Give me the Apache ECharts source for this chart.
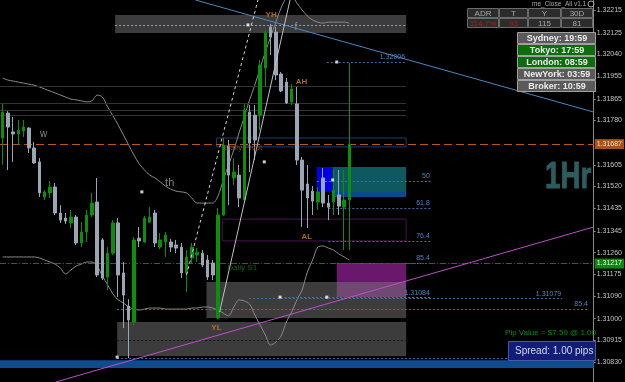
<!DOCTYPE html>
<html><head><meta charset="utf-8">
<script src="https://cdn.jsdelivr.net/npm/echarts@6/dist/echarts.min.js"></script>
<style>html,body{margin:0;padding:0;background:#000;}#c{width:625px;height:382px;}</style>
</head><body><div id="c"></div>
<script>
// ---------------- DATA ----------------
// candles: [open, close, low, high]
const candles = [
[1.31711,1.31813,1.31605,1.31845],[1.31809,1.31754,1.31585,1.31817],[1.31735,1.31727,1.31617,1.31794],
[1.31727,1.31742,1.31683,1.31782],[1.31739,1.31754,1.31715,1.31782],[1.31750,1.31672,1.31652,1.31754],
[1.31672,1.31613,1.31609,1.31695],[1.31617,1.31495,1.31479,1.31632],[1.31479,1.31499,1.31467,1.31506],
[1.31495,1.31518,1.31475,1.31542],[1.31518,1.31416,1.31408,1.31534],[1.31416,1.31388,1.31377,1.31447],
[1.31396,1.31384,1.31373,1.31416],[1.31377,1.31400,1.31357,1.31428],[1.31400,1.31298,1.31290,1.31408],
[1.31298,1.31341,1.31282,1.31380],[1.31341,1.31408,1.31302,1.31428],[1.31408,1.31455,1.31400,1.31495],
[1.31459,1.31172,1.31164,1.31554],[1.31310,1.31160,1.31152,1.31317],[1.31164,1.31258,1.31113,1.31282],
[1.31258,1.31377,1.31251,1.31388],[1.31377,1.31172,1.31085,1.31396],[1.31180,1.31093,1.30963,1.31223],
[1.31050,1.30995,1.30845,1.31077],[1.30987,1.31310,1.30975,1.31321],[1.31317,1.31306,1.31282,1.31361],
[1.31302,1.31396,1.31298,1.31404],[1.31380,1.31400,1.31377,1.31439],[1.31416,1.31298,1.31282,1.31428],
[1.31282,1.31310,1.31274,1.31337],[1.31302,1.31329,1.31243,1.31341],[1.31302,1.31282,1.31262,1.31314],
[1.31290,1.31278,1.31258,1.31310],[1.31282,1.31180,1.31160,1.31298],[1.31180,1.31243,1.31105,1.31270],
[1.31239,1.31282,1.31219,1.31298],[1.31251,1.31262,1.31223,1.31278],[1.31258,1.31211,1.31203,1.31270],
[1.31231,1.31164,1.31152,1.31251],[1.31219,1.31172,1.31152,1.31231],[1.31003,1.31408,1.30999,1.31436],
[1.31408,1.31683,1.31404,1.31711],[1.31680,1.31565,1.31447,1.31703],[1.31554,1.31577,1.31526,1.31632],
[1.31565,1.31475,1.31439,1.31605],[1.31467,1.31821,1.31459,1.31845],[1.31813,1.31691,1.31577,1.31841],
[1.31801,1.31703,1.31624,1.31841],[1.31801,1.31998,1.31742,1.32018],[1.31986,1.32124,1.31912,1.32136],
[1.32148,1.32108,1.32038,1.32160],[1.32128,1.31959,1.31939,1.32148],[1.31963,1.31896,1.31892,1.31971],
[1.31931,1.31849,1.31845,1.31947],[1.31853,1.31904,1.31841,1.31923],[1.31845,1.31624,1.31605,1.31912],
[1.31624,1.31506,1.31361,1.31636],[1.31530,1.31475,1.31357,1.31605],[1.31502,1.31463,1.31408,1.31522],
[1.31459,1.31499,1.31428,1.31518],[1.31554,1.31455,1.31439,1.31593],[1.31455,1.31439,1.31388,1.31487],
[1.31459,1.31506,1.31408,1.31585],[1.31487,1.31443,1.31408,1.31585],[1.31439,1.31467,1.31270,1.31585],
[1.31467,1.31687,1.31270,1.32006]
];
const upperBand = [1.31947,1.31939,1.31935,1.31931,1.31927,1.31923,1.31919,1.31912,1.31904,1.31896,1.31888,1.31880,
1.31872,1.31864,1.31861,1.31857,1.31853,1.31857,1.31880,1.31872,1.31833,1.31798,1.31762,1.31723,1.31683,1.31644,
1.31609,1.31585,1.31565,1.31554,1.31538,1.31522,1.31510,1.31502,1.31499,1.31495,1.31475,1.31455,1.31455,1.31455,
1.31455,1.31483,1.31546,1.31605,1.31664,1.31731,1.31794,1.31861,1.31919,1.31986,1.32049,1.32108,1.32167,1.32223,
1.32262,1.32270,1.32242,1.32215,1.32191,1.32175,1.32167,1.32163,1.32167,1.32167,1.32167,1.32167,1.32163];
const lowerBand = [1.31243,1.31243,1.31243,1.31243,1.31243,1.31243,1.31243,1.31239,1.31231,1.31223,1.31215,1.31199,
1.31176,1.31192,1.31207,1.31215,1.31223,1.31223,1.31207,1.31168,1.31133,1.31097,1.31074,1.31062,1.31046,1.31038,
1.31034,1.31038,1.31042,1.31042,1.31042,1.31038,1.31038,1.31038,1.31038,1.31038,1.31042,1.31042,1.31046,1.31046,
1.31042,1.31034,1.31022,1.31011,1.31046,1.31074,1.31070,1.31058,1.31015,1.30975,1.30936,1.30896,1.30908,1.30932,
1.30987,1.31026,1.31074,1.31113,1.31184,1.31231,1.31282,1.31286,1.31278,1.31270,1.31255,1.31243,1.31231];
const yTickLabels = ['1.32215','1.32125','1.32040','1.31955','1.31865','1.31780','1.31605','1.31520','1.31435',
'1.31345','1.31260','1.31175','1.31090','1.31000','1.30915','1.30830'];
const bidPrice = 1.31687;
const s1Price = 1.31217;
// zones: [barFrom, barTo, priceA, priceB]
const grayZones = [[21.4,76.8,1.32195,1.32124],[38.8,76.8,1.31144,1.31003],[21.8,76.8,1.30987,1.30853]];
const bottomBand = [-0.5,112.5,1.30837,1.30806];
const blueBox = [59.8,62.8,1.31597,1.31499];
const tealBox = [62.8,76.8,1.31597,1.31499];
const tealStrip = [62.8,76.8,1.31499,1.31479];
const purpleBox = [63.6,76.8,1.31219,1.31085];
const pivotOutline = [40.7,76.8,1.31711,1.31676];
const purpleOutline = [41.8,76.8,1.31392,1.31306];
const grayLevels = [1.31916,1.31849,1.31821,1.31801];
// dotted levels: [barFrom, barTo, price, label]
const dottedLevels = [
 [61.7,76.8,1.32010,'1.32006'],[59.8,81.5,1.31542,'50'],[62.0,81.5,1.31436,'61.8'],[62.0,81.5,1.31306,'76.4'],
 [63.6,81.5,1.31219,'85.4'],[52.8,81.5,1.31085,'1.31084'],[46.9,106.5,1.31079,'1.31079'],
 [21.8,111.6,1.31038,'85.4'],[21.8,111.6,1.30845,'1.30843']];
const topDotted = [21.4,76.8,1.32156];
const zoneInner = [21.8,76.8,1.30916];
const blueTrend = [[36.7,1.32254],[112.5,1.31813]];
const magentaTrend = [[10.1,1.30751],[112.5,1.31361]];
const dashedChannel = [[35.0,1.31172],[48.6,1.32254]];
const solidChannel = [[41.3,1.31026],[54.7,1.32254]];
const dots = [[63.6,1.32010],[49.8,1.31617],[26.5,1.31499],[62.8,1.31546],[52.8,1.31085],[61.7,1.31085],[46.7,1.32156],[21.8,1.30849]];
const noteText = ['YH','f','AH','AL','YL','w','th','Daily Pivot','Daily S1'];
const noteBar = [51.1,55.8,56.9,57.9,40.7,7.8,31.8,45.8,45.6];
const notePrice = [1.32195,1.32148,1.31931,1.31321,1.30963,1.31727,1.31534,1.31672,1.31199];
const tableHead = ['ADR','T','Y','30D'];
const tableVals = ['114.7%','93','115','81'];
const sessions = ['Sydney: 19:59','Tokyo: 17:59','London: 08:59','NewYork: 03:59','Broker: 10:59'];
const sessionOpen = [false,true,true,false,false];

// ---------------- CHART ----------------
const N = 113;
const cats = Array.from({length:N},(_,i)=>String(i));
const tickValues = yTickLabels.map(Number);
const FONT = 'Liberation Sans';

function area(r, style){ return [{coord:[r[0],r[2]], itemStyle:style},{coord:[r[1],r[3]]}]; }
const areaData = [
 area(purpleBox,{color:'#6a186c'}),
 ...grayZones.map(z=>area(z,{color:'rgba(120,120,120,0.5)'})),
 area(bottomBand,{color:'#0f4c8f'}),
 area(blueBox,{color:'#0000e8'}),
 area(tealBox,{color:'#0e5860'}),
 area(tealStrip,{color:'#0b4a8a'}),
 area(pivotOutline,{color:'rgba(0,0,0,0)',borderColor:'#1c3a78',borderWidth:1}),
 area(purpleOutline,{color:'rgba(0,0,0,0)',borderColor:'#4a1450',borderWidth:1})
];
const seg = (x1,x2,p,ls,lab)=>[{coord:[x1,p],lineStyle:ls,label:lab||{show:false}},{coord:[x2,p]}];
const tag = (txt,bg,fg)=>({show:true,position:'end',formatter:txt,backgroundColor:bg,color:fg,fontSize:7,fontFamily:FONT,padding:[2,2,1,2],distance:1});
const lineData = [
 ...grayLevels.map(p=>seg(-0.5,76.8,p,{color:'#333',width:1,type:'solid'})),
 seg(topDotted[0],topDotted[1],topDotted[2],{color:'#8fa0b8',width:1,type:[2,2]}),
 seg(zoneInner[0],zoneInner[1],zoneInner[2],{color:'#151515',width:1,type:[2,2]}),
 ...dottedLevels.map(d=>seg(d[0],d[1],d[2],{color:'#3f70a4',width:1,type:[2,2]},
   {show:true,position:'insideEndTop',formatter:d[3],color:'#4d85c4',fontSize:7,fontFamily:FONT,distance:1})),
 seg(-0.5,112.5,bidPrice,{color:'#b4581e',type:[8,4],width:1},tag(bidPrice.toFixed(5),'#a4531c','#f0dcc8')),
 seg(-0.5,112.5,s1Price,{color:'#1d6e1d',type:[6,2,1,2],width:1},tag(s1Price.toFixed(5),'#0a8a0a','#e8f4e8'))
];
const noteStyle = {
 YH:{color:'#d08020',fontWeight:'bold',fontSize:8}, AH:{color:'#d08020',fontWeight:'bold',fontSize:8},
 AL:{color:'#d08020',fontWeight:'bold',fontSize:8}, YL:{color:'#d08020',fontWeight:'bold',fontSize:8},
 f:{color:'#9a9a9a',fontSize:10}, w:{color:'#a0a0a0',fontSize:10}, th:{color:'#a0a0a0',fontSize:11},
 'Daily Pivot':{color:'#96501c',fontSize:8}, 'Daily S1':{color:'#128012',fontSize:8}
};
const trend = (d,ls)=>({type:'line',xAxisIndex:1,data:d,showSymbol:false,symbol:'none',lineStyle:ls,z:6,silent:true,clip:true});

const option = {
 backgroundColor:'#000', animation:false,
 grid:{left:-1,right:28,top:0,bottom:0,containLabel:false},
 xAxis:[
  {type:'category',data:cats,show:false,boundaryGap:true},
  {type:'value',min:-0.5,max:112.5,show:false}
 ],
 yAxis:{type:'value',position:'right',min:1.30751,max:1.32254,scale:true,splitLine:{show:false},
  axisLine:{show:true,onZero:false,lineStyle:{color:'#8a8a8a'}},
  axisTick:{show:true,length:2,customValues:tickValues,lineStyle:{color:'#8a8a8a'}},
  axisLabel:{customValues:tickValues,formatter:v=>v.toFixed(5),color:'#c4c4c4',fontSize:7,margin:3,fontFamily:FONT}},
 series:[
  {type:'line',xAxisIndex:1,data:[[-5,1.2]],showSymbol:false,z:1,silent:true,
   markArea:{silent:true,data:areaData},
   markLine:{silent:true,symbol:['none','none'],data:lineData}},
  {type:'line',xAxisIndex:0,data:upperBand,showSymbol:false,symbol:'none',smooth:0.3,lineStyle:{color:'#8a8a8a',width:1},z:3,silent:true},
  {type:'line',xAxisIndex:0,data:lowerBand,showSymbol:false,symbol:'none',smooth:0.3,lineStyle:{color:'#8a8a8a',width:1},z:3,silent:true},
  {type:'candlestick',xAxisIndex:0,data:candles,barWidth:3,z:5,silent:true,
   itemStyle:{color:'#0c8f0c',color0:'#9aa5b5',borderColor:'#0c8f0c',borderColor0:'#9aa5b5',borderWidth:1}},
  trend(blueTrend,{color:'#4a88c4',width:1}),
  trend(magentaTrend,{color:'#c04cd0',width:1}),
  trend(dashedChannel,{color:'#d4d4d4',width:1,type:[3,3]}),
  trend(solidChannel,{color:'#c0c0c0',width:1}),
  {type:'scatter',xAxisIndex:1,data:dots,symbol:'rect',symbolSize:3,itemStyle:{color:'#ffffff'},z:7,silent:true},
  {type:'scatter',xAxisIndex:1,symbolSize:1,itemStyle:{color:'rgba(0,0,0,0)'},z:7,silent:true,
   data:noteText.map((t,i)=>({name:t,value:[noteBar[i],notePrice[i]],
     label:Object.assign({show:true,position:'inside',formatter:'{b}',fontFamily:FONT},noteStyle[t])}))}
 ],
 graphic:[]
};

// panels
const G = option.graphic;
G.push({type:'text',z:100,x:532,y:4,style:{text:'me_Close_All v1.1',fill:'#a8a8a8',font:'6.5px "Liberation Sans"',textVerticalAlign:'middle'}});
G.push({type:'circle',z:100,shape:{cx:591,cy:4,r:3},style:{fill:'none',stroke:'#a8a8a8',lineWidth:1}});
const colX=[467,499,528,561,593];
for(let c=0;c<4;c++){
 for(let r=0;r<2;r++){
  G.push({type:'rect',z:100,shape:{x:colX[c]+0.5,y:8.5+r*10,width:colX[c+1]-colX[c]-1,height:9},style:{fill:'#2c2c2c',stroke:'#6a6a6a',lineWidth:1}});
 }
 G.push({type:'text',z:101,x:(colX[c]+colX[c+1])/2,y:13.5,style:{text:tableHead[c],fill:'#a8a8a8',font:'8px "Liberation Sans"',textAlign:'center',textVerticalAlign:'middle'}});
 G.push({type:'text',z:101,x:(colX[c]+colX[c+1])/2,y:23.5,style:{text:tableVals[c],fill:c<2?'#b01c1c':'#a8a8a8',font:'8px "Liberation Sans"',textAlign:'center',textVerticalAlign:'middle'}});
}
sessions.forEach((s,k)=>{
 G.push({type:'rect',z:100,shape:{x:517.5,y:32.5+k*12,width:78,height:11},style:{fill:sessionOpen[k]?'#0b6e0b':'#5a5a5a',stroke:'#a0a0a0',lineWidth:1}});
 G.push({type:'text',z:101,x:557,y:38.5+k*12,style:{text:s,fill:'#ececec',font:'bold 9px "Liberation Sans"',textAlign:'center',textVerticalAlign:'middle'}});
});
G.push({type:'text',z:100,x:545,y:178,scaleX:0.75,style:{text:'1Hr',fill:'#2e5b5d',stroke:'#2e5b5d',lineWidth:1,font:'bold 37px "Liberation Sans"',textVerticalAlign:'middle'}});
G.push({type:'text',z:100,x:596,y:333,style:{text:'Pip Value = $7.59 @ 1.00',fill:'#0c8c0c',font:'8px "Liberation Sans"',textAlign:'right',textVerticalAlign:'middle'}});
G.push({type:'rect',z:100,shape:{x:508.5,y:341.5,width:87,height:19},style:{fill:'#101e7a',stroke:'#4a58a0',lineWidth:1}});
G.push({type:'text',z:101,x:515,y:351,style:{text:'Spread: 1.00 pips',fill:'#d8d8e8',font:'10px "Liberation Sans"',textVerticalAlign:'middle'}});

const chart = echarts.init(document.getElementById('c'),null,{renderer:'canvas'});
chart.setOption(option);
</script></body></html>
